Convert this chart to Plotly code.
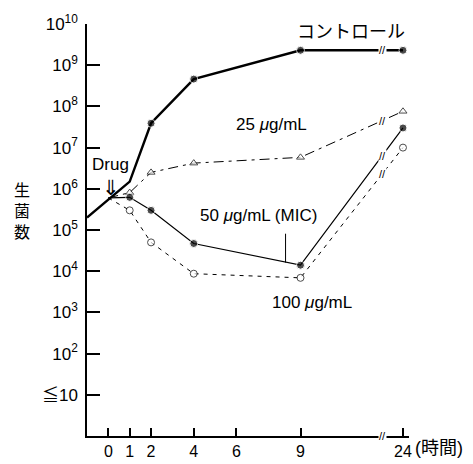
import numpy as np
import plotly.graph_objects as go

# ---- data (hours, viable counts) ----
hours_control = [-1, 1, 2, 4, 9, 24]
control = [2.0e5, 1.5e6, 3.9e7, 4.6e8, 2.3e9, 2.3e9]

hours_drug = [0, 1, 2, 4, 9, 24]
conc25 = [6.0e5, 8.1e5, 2.5e6, 4.2e6, 5.8e6, 7.6e7]
conc50 = [6.0e5, 6.2e5, 3.0e5, 4.7e4, 1.4e4, 3.0e7]
conc100 = [6.0e5, 3.0e5, 5.0e4, 8.7e3, 6.9e3, 1.0e7]

x_tick_hours = [0, 1, 2, 4, 6, 9, 24]
x_tick_text = ["0", "1", "2", "4", "6", "9", "24"]
y_tick_vals = [1e1, 1e2, 1e3, 1e4, 1e5, 1e6, 1e7, 1e8, 1e9, 1e10]
y_tick_text = ["≦10", "10<sup>2</sup>", "10<sup>3</sup>", "10<sup>4</sup>", "10<sup>5</sup>",
               "10<sup>6</sup>", "10<sup>7</sup>", "10<sup>8</sup>", "10<sup>9</sup>", "10<sup>10</sup>"]

# broken time axis: 9 -> 24 h compressed
BREAK_START, BREAK_END_POS = 9, 13.8
def tpos(h):
    h = np.asarray(h, dtype=float)
    return np.where(h <= BREAK_START, h, BREAK_START + (h - BREAK_START) * (BREAK_END_POS - BREAK_START) / 15.0)

FONT = "Liberation Sans, Arial, Noto Sans CJK JP"
BLACK = "black"
W, H = 473, 464
ML, MR, MT, MB = 87, 64, 24, 28
PW, PH = W - ML - MR, H - MT - MB
XR = [-1, -1 + PW / 21.35]
YR = [0, 10]

fig = go.Figure()

def no_first(n, size):
    return [0] + [size] * (n - 1)

fig.add_trace(go.Scatter(x=tpos(hours_control), y=control, mode="lines+markers",
                         line=dict(color=BLACK, width=2.4),
                         marker=dict(size=[0, 0, 8, 8, 8, 8], color=BLACK, symbol="circle"),
                         showlegend=False))
fig.add_trace(go.Scatter(x=tpos(hours_drug), y=conc25, mode="lines+markers",
                         line=dict(color=BLACK, width=1, dash="10px,5px,3px,5px"),
                         marker=dict(size=no_first(6, 7), color="white", symbol="triangle-up",
                                     line=dict(color=BLACK, width=1)),
                         showlegend=False))
fig.add_trace(go.Scatter(x=tpos(hours_drug), y=conc50, mode="lines+markers",
                         line=dict(color=BLACK, width=1.2),
                         marker=dict(size=no_first(6, 8), color=BLACK, symbol="circle"),
                         showlegend=False))
fig.add_trace(go.Scatter(x=tpos(hours_drug), y=conc100, mode="lines+markers",
                         line=dict(color=BLACK, width=1, dash="4px,5px"),
                         marker=dict(size=no_first(6, 7), color="white", symbol="circle",
                                     line=dict(color=BLACK, width=1)),
                         showlegend=False))

ann = []
def txt(x, y, s, size=17, xref="x", yref="y", **kw):
    kw.setdefault("xanchor", "center")
    kw.setdefault("yanchor", "middle")
    ann.append(dict(x=x, y=y, xref=xref, yref=yref, text=s, showarrow=False,
                    font=dict(family=FONT, size=size, color=BLACK), **kw))

txt(3.03, 10.12, "クラブラン酸", 18)
txt(11.37, 9.81, "コントロール", 18)
txt(7.66, 7.55, "25 <i>μ</i>g/mL", 17)
txt(0.12, 6.58, "Drug", 17)
txt(0.12, 6.03, "⇓", 21)
txt(7.05, 5.34, "50 <i>μ</i>g/mL (MIC)", 17)
txt(9.54, 3.25, "100 <i>μ</i>g/mL", 17)
txt((22 - ML) / PW, 5.44, "生<br>菌<br>数", 16, xref="paper")
txt((413 - ML) / PW, -12 / PH, "(時間)", 18, xref="paper", yref="paper", xanchor="left")

# break marks on axis and on each line
bx = 12.83
def interp_log(series):
    a, b = np.log10(series[-2]), np.log10(series[-1])
    return a + (b - a) * (bx - BREAK_START) / (BREAK_END_POS - BREAK_START)
for s in [control, conc25, conc50, conc100]:
    txt(bx, interp_log(s), "//", 11, bgcolor="white", borderpad=0)
txt(bx, 0, "//", 11, bgcolor="white", borderpad=0)

fig.update_layout(annotations=ann)

# MIC leader line
fig.add_shape(type="line", x0=8.3, x1=8.3, y0=10 ** 4.91, y1=10 ** 4.21, xref="x", yref="y",
              line=dict(color=BLACK, width=1))

fig.update_xaxes(range=XR, tickvals=[float(v) for v in tpos(x_tick_hours)], ticktext=x_tick_text,
                 ticks="inside", ticklen=8, tickwidth=2, tickcolor="black",
                 showline=True, linecolor=BLACK, linewidth=1.5,
                 showgrid=True, gridcolor="rgba(0,0,0,0)", zeroline=False,
                 tickfont=dict(family=FONT, size=16, color=BLACK))
fig.update_yaxes(type="log", range=YR, tickvals=y_tick_vals, ticktext=y_tick_text,
                 ticks="inside", ticklen=13, tickwidth=2, tickcolor="black",
                 ticklabelstandoff=4,
                 showline=True, linecolor=BLACK, linewidth=1.5,
                 showgrid=True, gridcolor="rgba(0,0,0,0)", zeroline=False,
                 tickfont=dict(family=FONT, size=17, color=BLACK))

fig.update_layout(width=W, height=H, margin=dict(l=ML, r=MR, t=MT, b=MB, autoexpand=False),
                  plot_bgcolor="white", paper_bgcolor="white",
                  font=dict(family=FONT, color=BLACK))

fig.write_html("out.html", config={"displayModeBar": False},
               post_script="document.body.style.margin='0';")
